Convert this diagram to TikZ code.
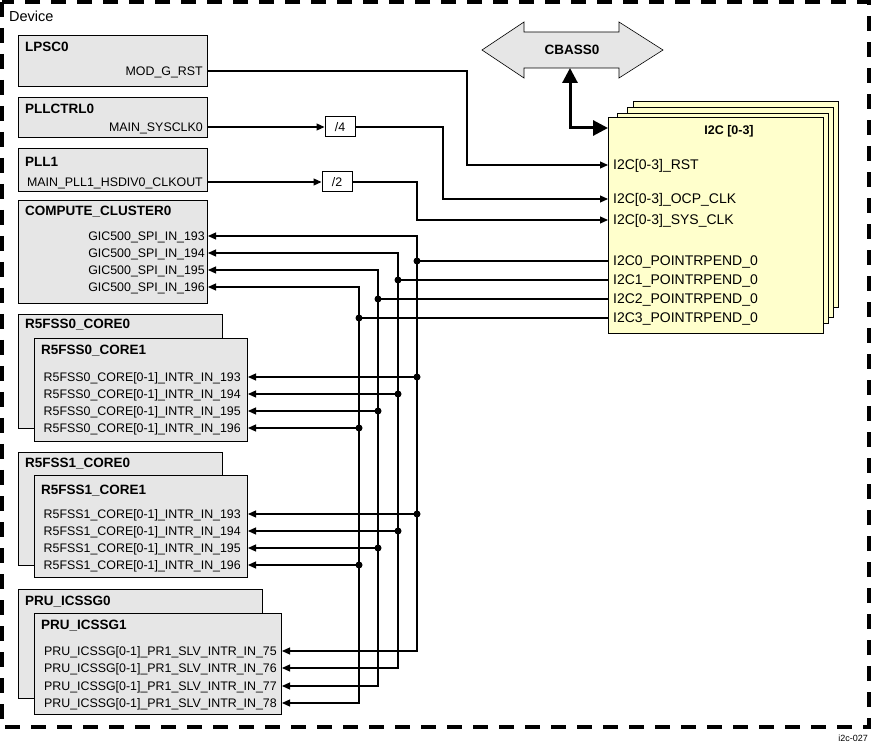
\documentclass[tikz,border=0pt]{standalone}
\usepackage{fontspec}
\setmainfont{Liberation Sans}
\usetikzlibrary{arrows.meta}
\definecolor{blkgray}{RGB}{230,230,230}
\definecolor{ipyellow}{RGB}{255,255,204}

\begin{document}
\begin{tikzpicture}[x=1pt, y=-1pt,
  blk/.style={draw, fill=blkgray, line width=1pt, anchor=north west, inner sep=0pt},
  ipblk/.style={draw, fill=ipyellow, line width=1pt, anchor=north west, inner sep=0pt},
  ttl/.style={font=\fontsize{13.5}{15}\selectfont\bfseries, inner sep=0pt, anchor=west, text height=9.7pt, text depth=0pt},
  sig/.style={font=\fontsize{12.4}{14}\selectfont, inner sep=0pt, anchor=east, text height=8.9pt, text depth=0pt},
  isig/.style={font=\fontsize{14}{16}\selectfont, inner sep=0pt, anchor=west, text height=10pt, text depth=0pt},
  wire/.style={line width=1.1pt},
  arr/.style={wire, -{Triangle[length=8pt, width=7pt]}},
  arrb/.style={wire, {Triangle[length=8pt, width=7pt]}-{Triangle[length=8pt, width=7pt]}},
  busarr/.style={line width=3pt, {Triangle[length=15pt, width=15pt]}-{Triangle[length=15pt, width=15pt]}},
  jdot/.style={circle, fill, inner sep=0pt, minimum size=7pt},
  divbox/.style={draw, fill=white, line width=1pt, inner sep=0pt, minimum width=30pt, minimum height=20pt, font=\fontsize{12.4}{14}\selectfont},
  frame/.style={line width=3.5pt, dash pattern=on 15pt off 11pt}]

\useasboundingbox (0,0) rectangle (871,743);

% device frame
\draw[frame] (2,2) rectangle (869,727);
\node[anchor=west, inner sep=0pt, font=\fontsize{14.5}{16}\selectfont] (dev) at (9,16) {Device};
\node[anchor=east, inner sep=0pt, font=\fontsize{9}{11}\selectfont] (figno) at (868,738) {i2c-027};

% clock and reset sources
\node[blk, minimum width=189pt, minimum height=51pt] (lpsc) at (18,35) {};
\node[ttl] (lpscT) at (25,47) {LPSC0};
\node[sig] (modrst) at (203,71) {MOD\_G\_RST};

\node[blk, minimum width=189pt, minimum height=40pt] (pllctrl) at (18,97) {};
\node[ttl] (pllctrlT) at (25,109) {PLLCTRL0};
\node[sig] (sysclk) at (203,127) {MAIN\_SYSCLK0};

\node[blk, minimum width=189pt, minimum height=43pt] (pll) at (18,148) {};
\node[ttl] (pllT) at (25,162) {PLL1};
\node[sig] (hsdiv) at (203,182) {MAIN\_PLL1\_HSDIV0\_CLKOUT};

\node[divbox] (div4) at (340,127) {/4};
\node[divbox] (div2) at (337,182) {/2};

% interrupt targets
\node[blk, minimum width=189pt, minimum height=103pt] (cc) at (18,200) {};
\node[ttl] (ccT) at (25,211) {COMPUTE\_CLUSTER0};
\node[sig] (gic193) at (205,236) {GIC500\_SPI\_IN\_193};
\node[sig] (gic194) at (205,253) {GIC500\_SPI\_IN\_194};
\node[sig] (gic195) at (205,270) {GIC500\_SPI\_IN\_195};
\node[sig] (gic196) at (205,287) {GIC500\_SPI\_IN\_196};

\node[blk, minimum width=204pt, minimum height=114pt] (rza) at (18,314) {};
\node[ttl] (rzaT) at (25,324) {R5FSS0\_CORE0};
\node[blk, minimum width=213pt, minimum height=103pt] (rzb) at (34,338) {};
\node[ttl] (rzbT) at (41,350) {R5FSS0\_CORE1};
\node[sig] (rz193) at (241,377) {R5FSS0\_CORE[0-1]\_INTR\_IN\_193};
\node[sig] (rz194) at (241,394) {R5FSS0\_CORE[0-1]\_INTR\_IN\_194};
\node[sig] (rz195) at (241,411) {R5FSS0\_CORE[0-1]\_INTR\_IN\_195};
\node[sig] (rz196) at (241,428) {R5FSS0\_CORE[0-1]\_INTR\_IN\_196};

\node[blk, minimum width=204pt, minimum height=113pt] (roa) at (18,452) {};
\node[ttl] (roaT) at (25,463) {R5FSS1\_CORE0};
\node[blk, minimum width=213pt, minimum height=102pt] (rob) at (34,475) {};
\node[ttl] (robT) at (41,490) {R5FSS1\_CORE1};
\node[sig] (ro193) at (241,514) {R5FSS1\_CORE[0-1]\_INTR\_IN\_193};
\node[sig] (ro194) at (241,531) {R5FSS1\_CORE[0-1]\_INTR\_IN\_194};
\node[sig] (ro195) at (241,548) {R5FSS1\_CORE[0-1]\_INTR\_IN\_195};
\node[sig] (ro196) at (241,565) {R5FSS1\_CORE[0-1]\_INTR\_IN\_196};

\node[blk, minimum width=244pt, minimum height=109pt] (prua) at (18,589) {};
\node[ttl] (pruaT) at (25,601) {PRU\_ICSSG0};
\node[blk, minimum width=247pt, minimum height=101pt] (prub) at (34,613) {};
\node[ttl] (prubT) at (41,625) {PRU\_ICSSG1};
\node[sig] (pru75) at (277,651) {PRU\_ICSSG[0-1]\_PR1\_SLV\_INTR\_IN\_75};
\node[sig] (pru76) at (277,668) {PRU\_ICSSG[0-1]\_PR1\_SLV\_INTR\_IN\_76};
\node[sig] (pru77) at (277,686) {PRU\_ICSSG[0-1]\_PR1\_SLV\_INTR\_IN\_77};
\node[sig] (pru78) at (277,703) {PRU\_ICSSG[0-1]\_PR1\_SLV\_INTR\_IN\_78};

% I2C instances
\node[ipblk, minimum width=205pt, minimum height=206pt] (ipd) at (633,101) {};
\node[ipblk, minimum width=206pt, minimum height=210pt] (ipc) at (627,107) {};
\node[ipblk, minimum width=211pt, minimum height=210pt] (ipb) at (617,113) {};
\node[ipblk, minimum width=215pt, minimum height=216pt] (i2c) at (608,117) {};
\node[ttl, anchor=center, font=\fontsize{12.5}{14}\selectfont\bfseries] (i2cT) at (729,130) {I2C [0-3]};
\node[isig] (i2crst) at (613,165) {I2C[0-3]\_RST};
\node[isig] (i2cocp) at (613,199) {I2C[0-3]\_OCP\_CLK};
\node[isig] (i2csys) at (613,220) {I2C[0-3]\_SYS\_CLK};
\node[isig] (i2cp0) at (613,261) {I2C0\_POINTRPEND\_0};
\node[isig] (i2cp1) at (613,280) {I2C1\_POINTRPEND\_0};
\node[isig] (i2cp2) at (613,299) {I2C2\_POINTRPEND\_0};
\node[isig] (i2cp3) at (613,318) {I2C3\_POINTRPEND\_0};

% CBASS0
\draw[fill=blkgray, line width=0.6pt] (482,50) -- (524,22) -- (524,32) -- (619,32) -- (619,22)
  -- (663,50) -- (619,78) -- (619,68) -- (524,68) -- (524,78) -- cycle;
\node[ttl, anchor=center] (cbass) at (572,50) {CBASS0};
\coordinate (cbbot) at (570,68);
\coordinate (ipbus) at (0,128);
\draw[busarr] (cbbot) -- (cbbot |- ipbus) -- (ipbus -| i2c.west);

% reset and clocks
\coordinate (rstx) at (467,0);
\coordinate (ocpx) at (443,0);
\coordinate (sysx) at (417,0);
\draw[arr] (modrst -| lpsc.east) -- (modrst -| rstx) -- (rstx |- i2crst) -- (i2crst -| i2c.west);
\draw[arr] (sysclk -| pllctrl.east) -- (div4.west);
\draw[arr] (div4.east) -- (div4 -| ocpx) -- (ocpx |- i2cocp) -- (i2cocp -| i2c.west);
\draw[arr] (hsdiv -| pll.east) -- (div2.west);
\draw[arr] (div2.east) -- (div2 -| sysx) -- (sysx |- i2csys) -- (i2csys -| i2c.west);

% interrupts
\coordinate (bA) at (417,0);
\coordinate (bB) at (398,0);
\coordinate (bC) at (378,0);
\coordinate (bD) at (359,0);

\draw[arrb] (gic193 -| cc.east) -- (bA |- gic193) -- (bA |- pru75) -- (pru75 -| prub.east);
\draw[arrb] (gic194 -| cc.east) -- (bB |- gic194) -- (bB |- pru76) -- (pru76 -| prub.east);
\draw[arrb] (gic195 -| cc.east) -- (bC |- gic195) -- (bC |- pru77) -- (pru77 -| prub.east);
\draw[arrb] (gic196 -| cc.east) -- (bD |- gic196) -- (bD |- pru78) -- (pru78 -| prub.east);

\draw[wire] (i2cp0 -| i2c.west) -- (bA |- i2cp0);
\draw[wire] (i2cp1 -| i2c.west) -- (bB |- i2cp1);
\draw[wire] (i2cp2 -| i2c.west) -- (bC |- i2cp2);
\draw[wire] (i2cp3 -| i2c.west) -- (bD |- i2cp3);
\node[jdot] (j0) at (bA |- i2cp0) {};
\node[jdot] (j1) at (bB |- i2cp1) {};
\node[jdot] (j2) at (bC |- i2cp2) {};
\node[jdot] (j3) at (bD |- i2cp3) {};

\draw[arr] (bA |- rz193) -- (rz193 -| rzb.east);
\draw[arr] (bB |- rz194) -- (rz194 -| rzb.east);
\draw[arr] (bC |- rz195) -- (rz195 -| rzb.east);
\draw[arr] (bD |- rz196) -- (rz196 -| rzb.east);
\node[jdot] (j4) at (bA |- rz193) {};
\node[jdot] (j5) at (bB |- rz194) {};
\node[jdot] (j6) at (bC |- rz195) {};
\node[jdot] (j7) at (bD |- rz196) {};

\draw[arr] (bA |- ro193) -- (ro193 -| rob.east);
\draw[arr] (bB |- ro194) -- (ro194 -| rob.east);
\draw[arr] (bC |- ro195) -- (ro195 -| rob.east);
\draw[arr] (bD |- ro196) -- (ro196 -| rob.east);
\node[jdot] (j8) at (bA |- ro193) {};
\node[jdot] (j9) at (bB |- ro194) {};
\node[jdot] (j10) at (bC |- ro195) {};
\node[jdot] (j11) at (bD |- ro196) {};

\end{tikzpicture}
\end{document}
